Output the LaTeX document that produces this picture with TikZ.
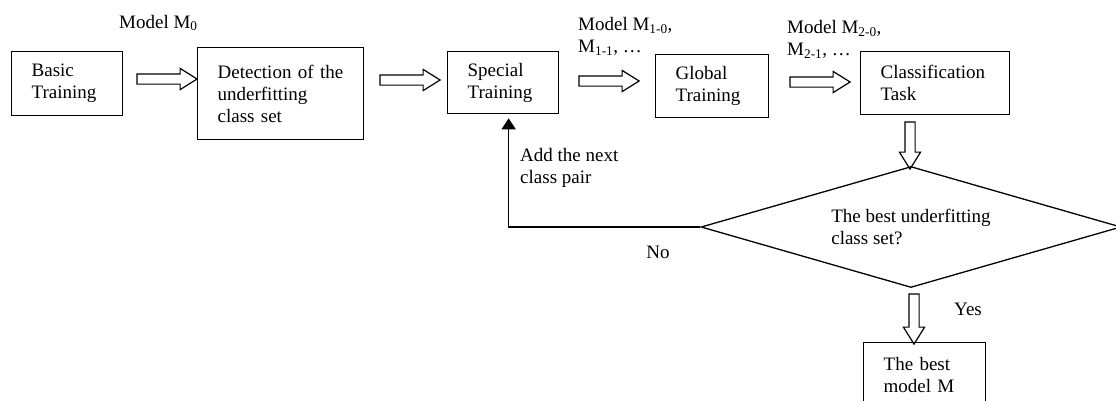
\documentclass[tikz,border=0pt]{standalone}
\usepackage{fontspec}
\setmainfont{Liberation Serif}
\usetikzlibrary{shapes.geometric,shapes.arrows,arrows.meta,positioning}

\begin{document}
\begin{tikzpicture}[
      x=1pt, y=-1pt,
      every node/.style={font=\fontsize{19}{22}\selectfont},
      block/.style={rectangle, draw, line width=1.3pt, anchor=north west, align=left, inner xsep=20pt, inner ysep=0pt},
      decision/.style={diamond, aspect=3.45, draw, line width=1.3pt, align=left, minimum width=420pt, minimum height=121pt, inner sep=0pt},
      hollow/.style={single arrow, draw, line width=1.2pt, inner xsep=0pt, inner ysep=4.5pt, minimum height=60pt, single arrow head extend=5.5pt, single arrow tip angle=64},
      hollowdown/.style={hollow, shape border rotate=270, inner xsep=4.5pt, inner ysep=0pt},
      note/.style={align=left, inner sep=0pt},
      line/.style={draw, line width=1.6pt, -{Triangle[length=11pt, width=14pt]}}
    ]
    \useasboundingbox (0,0) rectangle (1116,400);
    \clip (0,0) rectangle (1116,400);
    % Nodes
    \node [block, text width=71pt, minimum height=64pt] (basic) at (11,51) {Basic\\Training};
    \node [block, text width=126pt, minimum height=92pt] (detect) at (197,47) {Detection of the\\underfitting\\class set};
    \node [block, text width=71pt, minimum height=62pt] (special) at (447,51) {Special\\Training};
    \node [block, text width=73pt, minimum height=63pt] (global) at (655,54) {Global\\Training};
    \node [block, text width=109pt, minimum height=63pt] (classif) at (860,51) {Classification\\Task};
    \node [decision] (dec) at (911,227) {The best underfitting\\class set?};
    \node [block, text width=82pt, minimum height=64pt] (bestm) at (863,342) {The best\\model M};
    % Block arrows
    \node [hollow] (arr1) at (163,79) {};
    \node [hollow] (arr2) at (406,80) {};
    \node [hollow] (arr3) at (605,81) {};
    \node [hollow] (arr4) at (816,82) {};
    \node [hollowdown, minimum height=47pt] (arr5) at (910,141.5) {};
    \node [hollowdown, minimum height=50pt] (arr6) at (914,315) {};
    % Labels
    \node [note, anchor=base west] (m0) at (119,28) {Model M\textsubscript{0}};
    \node [note, anchor=north west] (m1) at (578,17) {Model M\textsubscript{1-0},\\M\textsubscript{1-1}, \ldots};
    \node [note, anchor=north west] (m2) at (787,20) {Model M\textsubscript{2-0},\\M\textsubscript{2-1}, \ldots};
    \node [note, anchor=west] (add) at (520,168) {Add the next\\class pair};
    \node [note] (no) at (658,252) {No};
    \node [note] (yes) at (968,309) {Yes};
    % Lines
    \path [line] (dec.west) -| ([xshift=5.5pt, yshift=-4pt]special.south);
  \end{tikzpicture}
\end{document}
